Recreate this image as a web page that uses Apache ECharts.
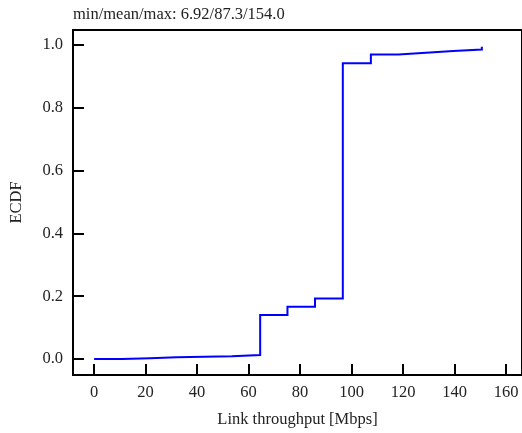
<!DOCTYPE html>
<html>
<head>
<meta charset="utf-8">
<script src="https://cdn.jsdelivr.net/npm/echarts@6/dist/echarts.min.js"></script>
<style>html,body{margin:0;padding:0;background:#fff;}#c{width:522px;height:433px;}</style>
</head>
<body>
<div id="c"></div>
<script>
var stepX = [0, 10.8, 21.7, 32.1, 53.5, 64.5, 75.1, 85.8, 96.6, 107.5, 118.2, 128.9, 139.5, 150.6];
var stepY = [0.0, 0.002, 0.0055, 0.0086, 0.0127, 0.140, 0.1666, 0.193, 0.9417, 0.970, 0.9755, 0.981, 0.986, 0.9946];
var xTicks = [0, 20, 40, 60, 80, 100, 120, 140, 160];
var yTicks = [0, 0.2, 0.4, 0.6, 0.8, 1.0];
var titleText = 'min/mean/max: 6.92/87.3/154.0';

// explicit staircase corners built from the arrays
var data = [];
stepX.forEach(function (x, i) {
  if (i > 0) data.push([x, stepY[i - 1]]);
  data.push([x, stepY[i]]);
});
var font = '"Liberation Serif", "DejaVu Serif", serif';
var fs = 16.5;
var chart = echarts.init(document.getElementById('c'));
chart.setOption({
  animation: false,
  title: {
    text: titleText, left: 68, top: 1,
    textStyle: { fontFamily: font, fontSize: fs, fontWeight: 'normal', color: '#222' }
  },
  grid: { left: 73, top: 30, right: -1, bottom: 58, show: true, borderColor: '#000', borderWidth: 2 },
  xAxis: {
    type: 'value', min: -8.2, max: 166.2,
    name: 'Link throughput [Mbps]', nameLocation: 'middle', nameGap: 36,
    nameTextStyle: { fontFamily: font, fontSize: fs, color: '#222' },
    axisLine: { show: true, onZero: false, lineStyle: { color: '#000', width: 2 } },
    axisTick: { show: true, inside: true, length: 11, lineStyle: { color: '#000', width: 2 }, customValues: xTicks },
    axisLabel: { fontFamily: font, fontSize: fs, color: '#222', margin: 9, customValues: xTicks },
    splitLine: { show: false }
  },
  yAxis: {
    type: 'value', min: -0.051, max: 1.048,
    name: 'ECDF', nameLocation: 'middle', nameGap: 48, nameRotate: 90,
    nameTextStyle: { fontFamily: font, fontSize: fs, color: '#222' },
    axisLine: { show: true, onZero: false, lineStyle: { color: '#000', width: 2 } },
    axisTick: { show: true, inside: true, length: 11, lineStyle: { color: '#000', width: 2 }, customValues: yTicks },
    axisLabel: { fontFamily: font, fontSize: fs, color: '#222', margin: 10, customValues: yTicks,
      formatter: function (v) { return v.toFixed(1); } },
    splitLine: { show: false }
  },
  series: [{
    type: 'line', data: data, showSymbol: false, symbol: 'none', sampling: null,
    lineStyle: { color: '#0000ff', width: 2, join: 'miter' }, clip: true
  }]
});
</script>
</body>
</html>
